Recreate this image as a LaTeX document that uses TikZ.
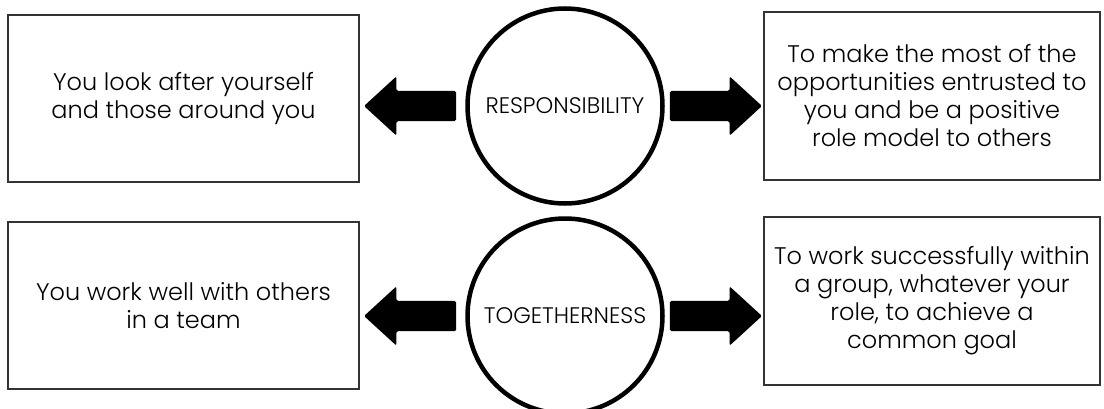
\documentclass[tikz,border=0pt]{standalone}
\usepackage{fontspec}
\setmainfont{Poppins}[UprightFont={* Light}]
\usetikzlibrary{positioning}
\usetikzlibrary{shapes.arrows}

\begin{document}
\begin{tikzpicture}[x=1pt, y=1pt,
    valuebox/.style={draw=black!80, line width=1.2pt, minimum width=351pt, minimum height=167pt, align=center, font=\fontsize{24}{28}\selectfont},
    valuering/.style={circle, draw, line width=4.5pt, minimum size=195pt, inner sep=0pt, font=\fontsize{22.5}{26}\selectfont},
    blockarrow/.style={single arrow, fill=black, inner sep=0pt, text height=30pt, text depth=0pt, minimum height=92pt, minimum width=59pt, single arrow head extend=14.5pt, single arrow tip angle=85, rounded corners=1.5pt}]
            % Frame
            \useasboundingbox[fill=white] (0,0) rectangle (1104,408);
            
            % Values
            \node[valuering] (resp) at (565,302) {RESPONSIBILITY};
            \node[valuering] (together) at (565,92) {TOGETHERNESS};
            
            % Arrows out of the values
            \node[blockarrow, shape border rotate=180, left=9pt of resp] (respL) {};
            \node[blockarrow, right=5pt of resp] (respR) {};
            \node[blockarrow, shape border rotate=180, left=9pt of together] (togetherL) {};
            \node[blockarrow, right=5pt of together] (togetherR) {};
            
            % Left boxes
            \node[valuebox] (lookafter) at (183.5,309.5) {You look after yourself\\and those around you};
            \node[valuebox] (teamwork) at (183.5,102.5) {You work well with others\\in a team};
            
            % Right boxes
            \node[valuebox, minimum width=336pt, minimum height=168pt] (rolemodel) at (932,312) {To make the most of the\\opportunities entrusted to\\you and be a positive\\role model to others};
            \node[valuebox, minimum width=336pt, minimum height=168pt] (commongoal) at (932,107) {To work successfully within\\a group, whatever your\\role, to achieve a\\common goal};
            
        \end{tikzpicture}
\end{document}
